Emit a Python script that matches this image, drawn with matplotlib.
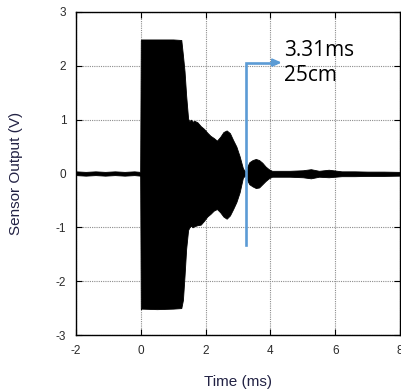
import matplotlib
matplotlib.use("Agg")
import matplotlib.pyplot as plt

plt.rcParams["axes.unicode_minus"] = False

# Envelope of the sensor waveform (time in ms, volts)
t_env = [-2.0, -1.7, -1.4, -1.1, -0.8, -0.5, -0.2, -0.02, 0.0, 0.02, 0.5, 1.0, 1.25,
         1.30, 1.35, 1.40, 1.46, 1.50, 1.55, 1.60, 1.65, 1.75, 1.85, 1.95, 2.05, 2.15,
         2.25, 2.35, 2.45, 2.55, 2.65, 2.75, 2.85, 2.95, 3.05, 3.15, 3.22, 3.28,
         3.35, 3.45, 3.55, 3.65, 3.75, 3.85, 3.95, 4.05, 4.3, 4.6, 5.0, 5.25, 5.5,
         5.8, 6.2, 6.6, 7.0, 7.5, 8.0]
upper = [0.04, 0.03, 0.04, 0.03, 0.04, 0.03, 0.04, 0.03, 2.48, 2.49, 2.49, 2.49, 2.48,
         2.20, 1.90, 1.45, 1.02, 0.97, 1.00, 0.96, 0.98, 0.95, 0.88, 0.83, 0.76, 0.70,
         0.66, 0.61, 0.68, 0.77, 0.80, 0.75, 0.62, 0.50, 0.32, 0.10, 0.03, 0.12,
         0.21, 0.25, 0.27, 0.25, 0.20, 0.13, 0.08, 0.05, 0.05, 0.05, 0.06, 0.08, 0.05,
         0.07, 0.04, 0.04, 0.035, 0.035, 0.03]
lower = [-0.03, -0.04, -0.03, -0.04, -0.03, -0.04, -0.03, -0.04, -2.52, -2.51, -2.52, -2.51, -2.50,
         -2.35, -1.90, -1.40, -1.05, -1.00, -0.97, -1.00, -0.98, -0.96, -0.95, -0.88, -0.80, -0.75,
         -0.69, -0.66, -0.72, -0.80, -0.84, -0.78, -0.66, -0.53, -0.35, -0.08, -0.03, -0.12,
         -0.20, -0.24, -0.27, -0.26, -0.20, -0.14, -0.09, -0.06, -0.06, -0.06, -0.07, -0.09, -0.06,
         -0.07, -0.05, -0.05, -0.045, -0.045, -0.04]

x_ticks = [-2, 0, 2, 4, 6, 8]
y_ticks = [-3, -2, -1, 0, 1, 2, 3]

# Annotation (echo time marker)
marker_t = 3.24
marker_bottom = -1.33
marker_top = 2.06
arrow_end = 4.35
label_lines = ["3.31ms", "25cm"]

fig = plt.figure(figsize=(4.01, 3.91), dpi=100)
ax = fig.add_axes([76 / 401, 56 / 391, 324 / 401, 323 / 391])

ax.set_axisbelow(True)
ax.grid(True, color="#8c8c8c", linestyle=(0, (1, 1)), linewidth=0.8)
ax.fill_between(t_env, lower, upper, color="black", linewidth=0.6, edgecolor="black")

blue = "#5B9BD5"
ax.plot([marker_t, marker_t, arrow_end - 0.2], [marker_bottom, marker_top, marker_top],
        color=blue, linewidth=1.9, solid_joinstyle="miter")
ax.annotate("", xy=(arrow_end, marker_top), xytext=(arrow_end - 0.3, marker_top),
            arrowprops=dict(arrowstyle="-|>,head_length=0.5,head_width=0.22",
                            color=blue, lw=1.6, shrinkA=0, shrinkB=0))
ax.text(4.41, 2.19, label_lines[0], fontsize=15, family="Open Sans", color="black", va="baseline")
ax.text(4.41, 1.71, label_lines[1], fontsize=15, family="Open Sans", color="black", va="baseline")

ax.set_xlim(-2, 8)
ax.set_ylim(-3, 3)
ax.set_xticks(x_ticks)
ax.set_yticks(y_ticks)
ax.tick_params(direction="in", length=4, width=0.8, top=True, right=True,
               labelsize=8.5, labelcolor="#2a2a2a", pad=7)
for s in ax.spines.values():
    s.set_linewidth(1.0)

ax.set_xlabel("Time (ms)", fontsize=11, color="#222244", family="Liberation Sans")
ax.set_ylabel("Sensor Output (V)", fontsize=11, color="#222244", family="Liberation Sans")
ax.xaxis.set_label_coords(0.5, -0.125)
ax.yaxis.set_label_coords(-0.165, 0.5)
for lab in ax.get_xticklabels() + ax.get_yticklabels():
    lab.set_family("Liberation Sans")

fig.savefig("out.png", dpi=100)
